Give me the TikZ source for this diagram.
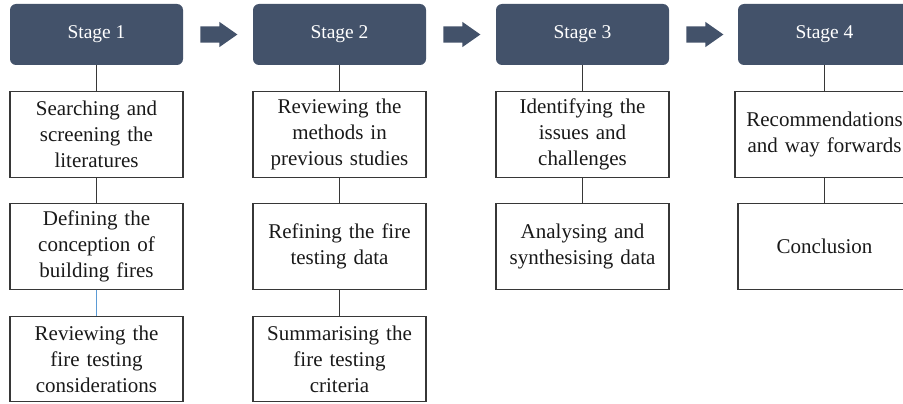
\documentclass[tikz,border=0pt]{standalone}
\usepackage{fontspec}
\setmainfont{Liberation Serif}
\usetikzlibrary{shapes.arrows,calc}

\definecolor{slate}{RGB}{67,82,106}
\definecolor{edge}{RGB}{55,55,55}
\definecolor{lightlink}{RGB}{91,155,213}

\begin{document}
\begin{tikzpicture}[x=1pt,y=1pt,
  stagehead/.style={fill=slate,rounded corners=6pt,minimum width=173pt,minimum height=61pt,
    text=white,font=\fontsize{19.5}{24}\selectfont},
  task/.style={draw=edge,line width=1.1pt,minimum width=173pt,minimum height=85.5pt,
    text width=165pt,align=center,inner sep=0pt,text=black!90,font=\fontsize{21}{26}\selectfont},
  link/.style={draw=edge,line width=1pt},
  stagearrow/.style={single arrow,fill=slate,minimum height=37pt,minimum width=25pt,anchor=tail,
    single arrow head extend=4.5pt,single arrow tip angle=70,inner xsep=0pt,inner ysep=8pt}]

  \useasboundingbox (0,0) rectangle (903,-404);

  % Stage 1
  \node[stagehead] (s1) at (96.5,-34.5) {Stage 1};
  \node[task] (t11) at (96.5,-134.5) {Searching and\\screening the\\literatures};
  \node[task] (t12) at (96.5,-246.5) {Defining the\\conception of\\building fires};
  \node[task] (t13) at (96.5,-359) {Reviewing the\\fire testing\\considerations};
  \draw[link] (s1) -- (t11);
  \draw[link] (t11) -- (t12);
  \draw[link,draw=lightlink] (t12) -- (t13);

  % Stage 2
  \node[stagehead] (s2) at (339.5,-34.5) {Stage 2};
  \node[task] (t21) at (339.5,-134.5) {Reviewing the\\methods in\\previous studies};
  \node[task] (t22) at (339.5,-246.5) {Refining the fire\\testing data};
  \node[task] (t23) at (339.5,-359) {Summarising the\\fire testing\\criteria};
  \draw[link] (s2) -- (t21);
  \draw[link] (t21) -- (t22);
  \draw[link] (t22) -- (t23);

  % Stage 3
  \node[stagehead] (s3) at (582.5,-34.5) {Stage 3};
  \node[task] (t31) at (582.5,-134.5) {Identifying the\\issues and\\challenges};
  \node[task] (t32) at (582.5,-246.5) {Analysing and\\synthesising data};
  \draw[link] (s3) -- (t31);
  \draw[link] (t31) -- (t32);

  % Stage 4
  \node[stagehead] (s4) at (824.5,-34.5) {Stage 4};
  \node[task,text width=179pt] (t41) at (824.5,-134.5) {Recommendations\\and way forwards};
  \node[task] (t42) at (824.5,-246.5) {Conclusion};
  \draw[link] (s4) -- (t41);
  \draw[link] (t41) -- (t42);

  % Arrows between stages
  \node[stagearrow] (a12) at ($(s1.east)+(17,0)$) {};
  \node[stagearrow] (a23) at ($(s2.east)+(17,0)$) {};
  \node[stagearrow] (a34) at ($(s3.east)+(17,0)$) {};

\end{tikzpicture}
\end{document}
